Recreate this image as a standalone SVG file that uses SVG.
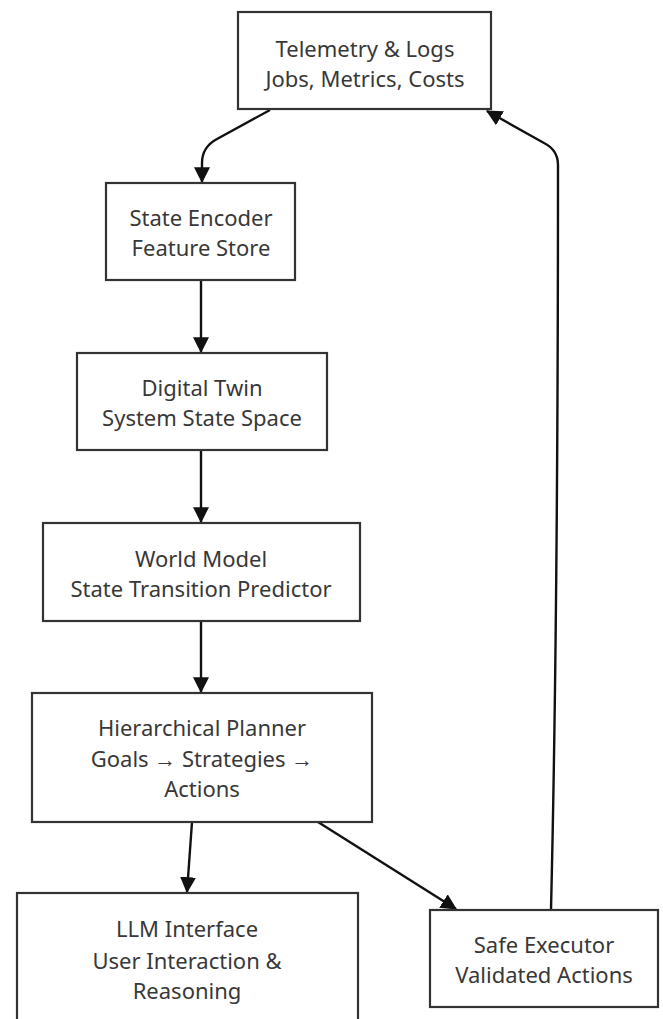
<svg xmlns="http://www.w3.org/2000/svg" width="663" height="1019" viewBox="0 0 663 1019">
<style>
.box{fill:#ffffff;stroke:#333333;stroke-width:2.2}
.lbl{font-family:"Noto Sans","Open Sans",sans-serif;font-size:22px;fill:#383838;text-anchor:middle;dominant-baseline:central}
.edge{fill:none;stroke:#111111;stroke-width:2.4}
</style>
<defs>
<marker id="arr" markerUnits="userSpaceOnUse" markerWidth="16" markerHeight="16" viewBox="0 0 14 14" refX="13" refY="7" orient="auto">
<path d="M0,0 L14,7 L0,14 z" fill="#111111"/>
</marker>
</defs>
<rect width="663" height="1019" fill="#ffffff"/>
<g id="connectors">
<path class="edge" marker-end="url(#arr)" d="M270,110 L217,139 Q202,147 202,163 L202,182"/>
<path class="edge" marker-end="url(#arr)" d="M201,280 L201,352"/>
<path class="edge" marker-end="url(#arr)" d="M201,450 L201,522"/>
<path class="edge" marker-end="url(#arr)" d="M201,621 L201,692"/>
<path class="edge" marker-end="url(#arr)" d="M192,822 L187,892"/>
<path class="edge" marker-end="url(#arr)" d="M318,822 L456,909"/>
<path class="edge" marker-end="url(#arr)" d="M551,910 C556,700 558,400 558,165 Q558,150 544,143 L487,111"/>
</g>
<g id="telemetry">
<rect class="box" x="238" y="12" width="253" height="97"/>
<text class="lbl" x="365" y="48">Telemetry &amp; Logs</text>
<text class="lbl" x="365" y="78">Jobs, Metrics, Costs</text>
</g>
<g id="state-encoder">
<rect class="box" x="106" y="183" width="189" height="97"/>
<text class="lbl" x="201" y="217">State Encoder</text>
<text class="lbl" x="201" y="247">Feature Store</text>
</g>
<g id="digital-twin">
<rect class="box" x="77" y="353" width="250" height="97"/>
<text class="lbl" x="202" y="387">Digital Twin</text>
<text class="lbl" x="202" y="417">System State Space</text>
</g>
<g id="world-model">
<rect class="box" x="43" y="523" width="317" height="98"/>
<text class="lbl" x="201" y="558">World Model</text>
<text class="lbl" x="201" y="588">State Transition Predictor</text>
</g>
<g id="planner">
<rect class="box" x="32" y="693" width="340" height="129"/>
<text class="lbl" x="202" y="727">Hierarchical Planner</text>
<text class="lbl" x="202" y="758">Goals → Strategies →</text>
<text class="lbl" x="202" y="788">Actions</text>
</g>
<g id="llm-interface">
<rect class="box" x="17" y="893" width="341" height="140"/>
<text class="lbl" x="187" y="928">LLM Interface</text>
<text class="lbl" x="187" y="960">User Interaction &amp;</text>
<text class="lbl" x="187" y="990">Reasoning</text>
</g>
<g id="safe-executor">
<rect class="box" x="430" y="910" width="228" height="97"/>
<text class="lbl" x="544" y="944">Safe Executor</text>
<text class="lbl" x="544" y="974">Validated Actions</text>
</g>
</svg>
